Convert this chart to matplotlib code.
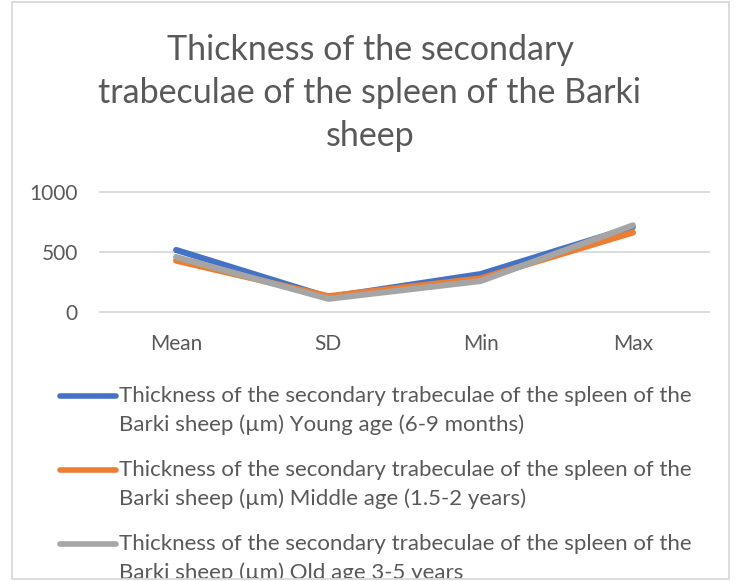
import matplotlib.pyplot as plt
from matplotlib.lines import Line2D
from matplotlib.patches import Rectangle

# Données
categories = ["Mean", "SD", "Min", "Max"]
young = [517, 124, 316, 708]
middle = [428, 132, 280, 662]
old = [458, 110, 258, 722]

line1 = "Thickness of the secondary trabeculae of the spleen of the"
line2 = ["Barki sheep (\u00b5m) Young age (6-9 months)",
         "Barki sheep (\u00b5m) Middle age (1.5-2 years)",
         "Barki sheep (\u00b5m) Old age 3-5 years"]
colors = ["#4472C4", "#ED7D31", "#A5A5A5"]

W, H = 740, 581
plt.rcParams['font.family'] = ['Lato', 'DejaVu Sans']
txt = "#595959"

fig = plt.figure(figsize=(W / 100, H / 100), dpi=100)
ax = fig.add_axes([100 / W, 1 - 312 / H, 609 / W, 120 / H])

x = range(len(categories))
for vals, col in zip([young, middle, old], colors):
    ax.plot(x, vals, color=col, linewidth=4.4, solid_capstyle='round')

ax.set_xlim(-0.5, 3.5)
ax.set_ylim(0, 1000)
ax.set_yticks([0, 500, 1000])
ax.set_xticks(list(x))
ax.set_xticklabels(categories)
ax.grid(axis='y', color="#D9D9D9", linewidth=1.3)
for gl in ax.get_ygridlines():
    gl.set_clip_on(False)
ax.set_axisbelow(True)
for s in ax.spines.values():
    s.set_visible(False)
ax.tick_params(length=0, labelsize=15, colors=txt)
ax.tick_params(axis='y', pad=16)
ax.tick_params(axis='x', pad=16)

fig.text(370 / W, 1 - 93 / H,
         "Thickness of the secondary\ntrabeculae of the spleen of the Barki\nsheep",
         ha='center', va='center', fontsize=24.5, color=txt, linespacing=1.42)

# légende dessinée à la main (trait aligné sur la première ligne)
for i, col in enumerate(colors):
    y0 = 396 + 74 * i
    fig.add_artist(Line2D([60 / W, 116 / W], [1 - y0 / H, 1 - y0 / H], color=col,
                          linewidth=4, solid_capstyle='round', transform=fig.transFigure))
    fig.text(119 / W, 1 - y0 / H, line1, ha='left', va='center', fontsize=16, color=txt)
    fig.text(119 / W, 1 - (y0 + 29) / H, line2[i], ha='left', va='center', fontsize=16, color=txt)

# cadre du graphique (la dernière ligne de légende est coupée)
fig.patches.append(Rectangle((0, 0), 1, 2 / H, transform=fig.transFigure,
                             facecolor='white', edgecolor='none', zorder=10))
fig.patches.append(Rectangle((12 / W, 2 / H), 717 / W, 577 / H, transform=fig.transFigure,
                             facecolor='none', edgecolor="#D9D9D9", linewidth=1.3, zorder=11))

fig.savefig("out.png", dpi=100)
